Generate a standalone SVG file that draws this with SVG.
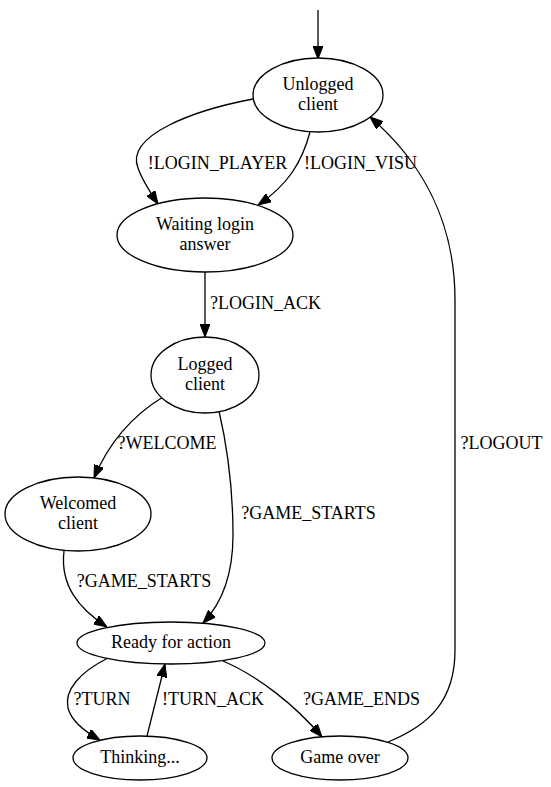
<svg xmlns="http://www.w3.org/2000/svg" width="551" height="787" viewBox="0 0 551 787">
<style>
.n ellipse{fill:#fff;stroke:#000;stroke-width:1.3}
text{font-family:"Liberation Serif","Times New Roman",serif;font-size:18px;fill:#000;text-anchor:middle}
.e path{fill:none;stroke:#000;stroke-width:1.3;marker-end:url(#ah)}
</style>
<defs>
<marker id="ah" viewBox="0 0 13 10" refX="13" refY="5" markerWidth="13" markerHeight="10" markerUnits="userSpaceOnUse" orient="auto">
<path d="M0,0 L13,5 L0,10 z" fill="#000" stroke="#000" stroke-width="1"/>
</marker>
</defs>
<rect width="551" height="787" fill="#fff"/>
<g id="edges" class="e">
<path d="M318,10 L318,59"/>
<path d="M253,99 C195,110 125,135 138,168 C142,180 150,192 158,204"/>
<path d="M310,132 C302,162 288,185 258,205"/>
<path d="M205,272 L205,337"/>
<path d="M163,397 C135,414 110,440 94,478"/>
<path d="M219,411 C228,450 233,490 233,535 C233,570 225,600 203,623"/>
<path d="M64,551 C60,585 78,608 107,627"/>
<path d="M108,658 C80,672 64,690 68,708 C71,720 82,730 100,740"/>
<path d="M147,736 L165,664"/>
<path d="M223,661 C258,676 295,705 322,737"/>
<path d="M388,742 C430,725 455,700 455,650 L455,300 C455,220 420,160 370,117"/>
<text x="217.5" y="169">!LOGIN_PLAYER</text>
<text x="360.5" y="169">!LOGIN_VISU</text>
<text x="265.5" y="309">?LOGIN_ACK</text>
<text x="167" y="449">?WELCOME</text>
<text x="308.5" y="519">?GAME_STARTS</text>
<text x="501.5" y="449">?LOGOUT</text>
<text x="144" y="587">?GAME_STARTS</text>
<text x="102" y="705">?TURN</text>
<text x="213" y="705">!TURN_ACK</text>
<text x="361.5" y="705">?GAME_ENDS</text>
</g>
<g id="unlogged" class="n"><ellipse cx="318" cy="95" rx="65" ry="37"/><text x="318" y="90">Unlogged</text><text x="318" y="110">client</text></g>
<g id="waiting" class="n"><ellipse cx="205" cy="235" rx="88" ry="37"/><text x="205" y="230">Waiting login</text><text x="205" y="250">answer</text></g>
<g id="logged" class="n"><ellipse cx="205" cy="375" rx="54" ry="38"/><text x="205" y="370">Logged</text><text x="205" y="390">client</text></g>
<g id="welcomed" class="n"><ellipse cx="78" cy="514" rx="73" ry="37"/><text x="78" y="509">Welcomed</text><text x="78" y="529">client</text></g>
<g id="ready" class="n"><ellipse cx="171" cy="643" rx="94" ry="21"/><text x="171" y="648">Ready for action</text></g>
<g id="thinking" class="n"><ellipse cx="140" cy="758" rx="67" ry="22"/><text x="140" y="763">Thinking...</text></g>
<g id="gameover" class="n"><ellipse cx="340" cy="758" rx="68" ry="22"/><text x="340" y="763">Game over</text></g>
</svg>
